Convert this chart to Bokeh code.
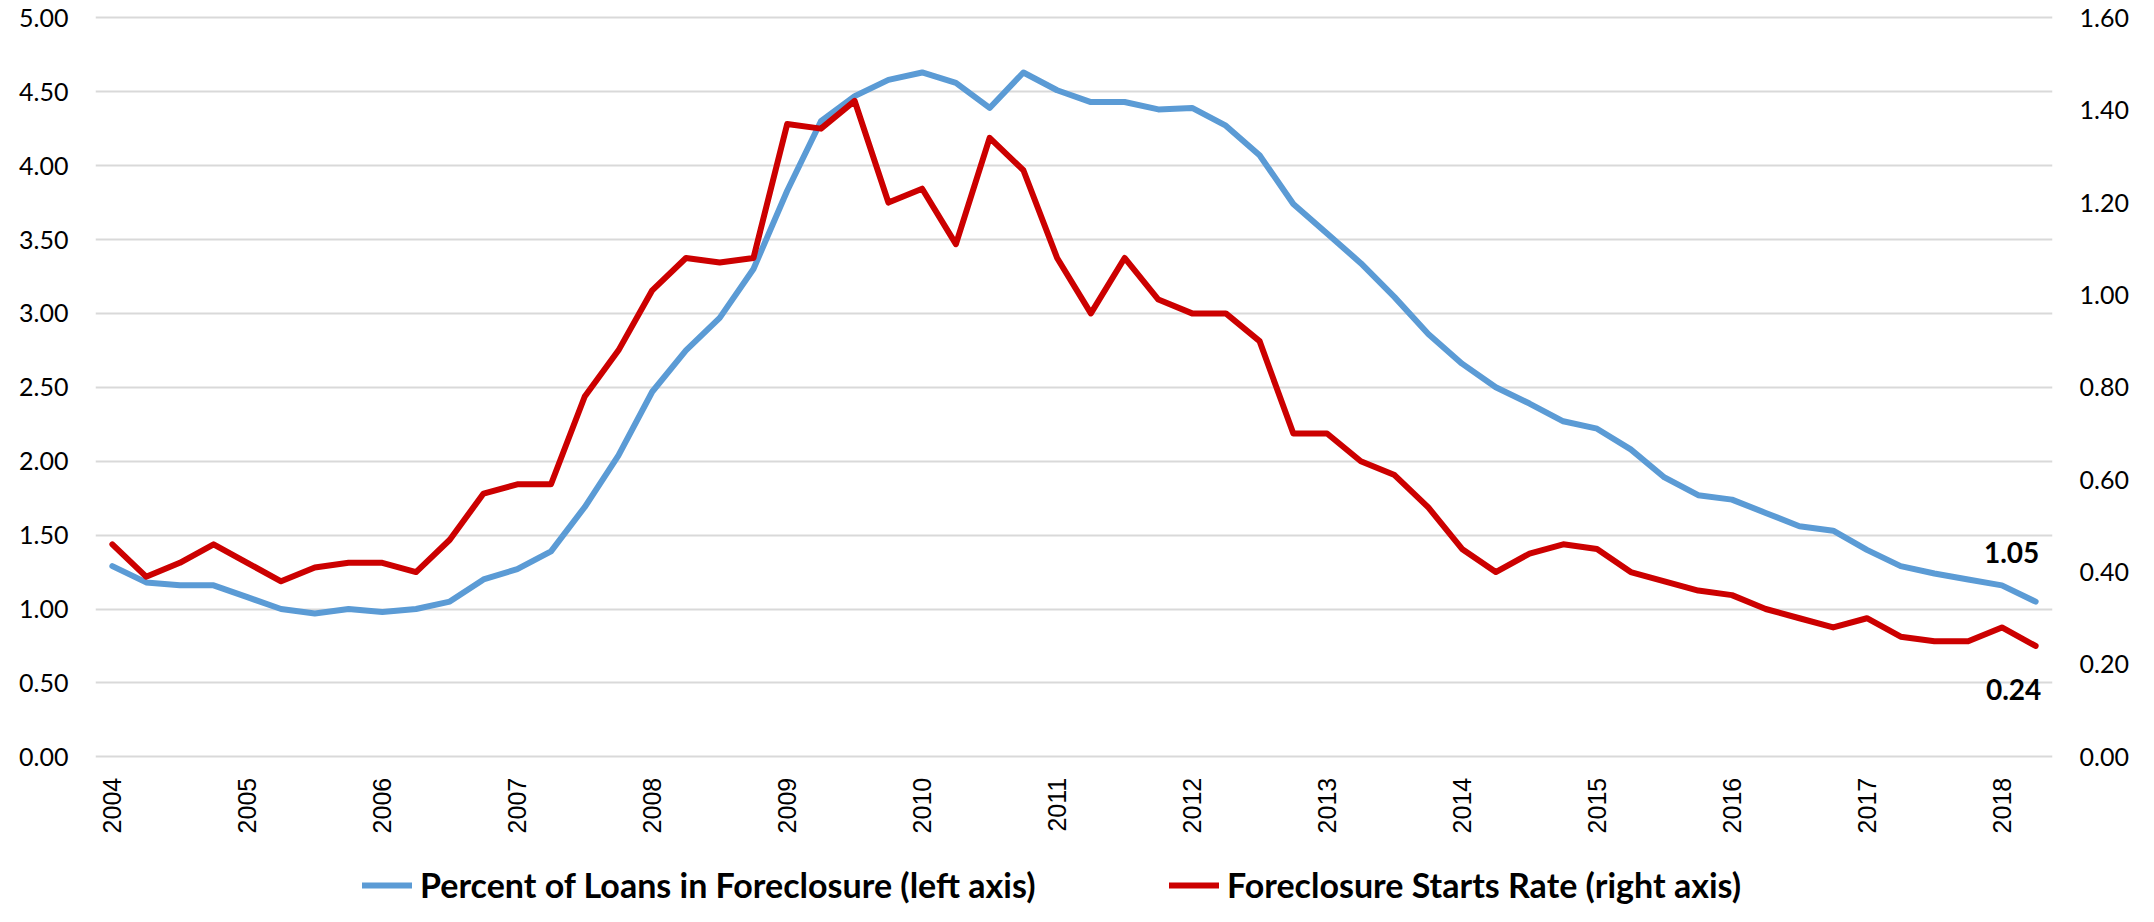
import math
from bokeh.plotting import figure
from bokeh.models import Range1d, LinearAxis, FixedTicker, Legend, LegendItem, ColumnDataSource
from bokeh.core.properties import value
from bokeh.embed import file_html
from bokeh.resources import INLINE

# Quarterly data, 2004 Q1 .. 2018 Q2
quarters = [f"{y}Q{q}" for y in range(2004, 2019) for q in range(1, 5)][:58]
pct_in_foreclosure = [
    1.29, 1.18, 1.16, 1.16, 1.08, 1.00, 0.97, 1.00, 0.98, 1.00, 1.05, 1.20,
    1.27, 1.39, 1.69, 2.04, 2.47, 2.75, 2.97, 3.30, 3.83, 4.30, 4.47, 4.58,
    4.63, 4.56, 4.39, 4.63, 4.51, 4.43, 4.43, 4.38, 4.39, 4.27, 4.07, 3.74,
    3.54, 3.34, 3.11, 2.86, 2.66, 2.50, 2.39, 2.27, 2.22, 2.08, 1.89, 1.77,
    1.74, 1.65, 1.56, 1.53, 1.40, 1.29, 1.24, 1.20, 1.16, 1.05,
]
starts_rate = [
    0.46, 0.39, 0.42, 0.46, 0.42, 0.38, 0.41, 0.42, 0.42, 0.40, 0.47, 0.57,
    0.59, 0.59, 0.78, 0.88, 1.01, 1.08, 1.07, 1.08, 1.37, 1.36, 1.42, 1.20,
    1.23, 1.11, 1.34, 1.27, 1.08, 0.96, 1.08, 0.99, 0.96, 0.96, 0.90, 0.70,
    0.70, 0.64, 0.61, 0.54, 0.45, 0.40, 0.44, 0.46, 0.45, 0.40, 0.38, 0.36,
    0.35, 0.32, 0.30, 0.28, 0.30, 0.26, 0.25, 0.25, 0.28, 0.24,
]
years = [str(y) for y in range(2004, 2019)]
left_ticks = [0.0, 0.5, 1.0, 1.5, 2.0, 2.5, 3.0, 3.5, 4.0, 4.5, 5.0]
right_ticks = [0.0, 0.2, 0.4, 0.6, 0.8, 1.0, 1.2, 1.4, 1.6]
series_names = ["Percent of Loans in Foreclosure (left axis)",
                "Foreclosure Starts Rate (right axis)"]

BLUE = "#5B9BD5"
RED = "#CC0000"
TICK_FONT = "Lato"

# ---- layout (canvas pixels) ----
W, H = 2138, 906
FRAME_LEFT, FRAME_RIGHT = 95, 2052
FRAME_TOP = 14          # top of plotting frame
Y_TOP_PX = 17.3         # where the top tick (5.00 / 1.60) sits
Y_ZERO_PX = 756.3       # where 0.00 sits
# the frame reaches down to the canvas bottom so the x axis and legend live inside it
def span(lo, hi):
    per_px = (hi - lo) / (Y_ZERO_PX - Y_TOP_PX)
    return Range1d(lo - (H - Y_ZERO_PX) * per_px, hi + (Y_TOP_PX - FRAME_TOP) * per_px)

idx = list(range(len(quarters)))
src = ColumnDataSource(dict(x=idx, q=quarters, a=pct_in_foreclosure, b=starts_rate))

p = figure(width=W, height=H, output_backend="svg", toolbar_location=None,
           x_range=Range1d(-0.5, len(quarters) - 0.5),
           y_range=span(left_ticks[0], left_ticks[-1]),
           min_border_left=FRAME_LEFT, min_border_right=W - FRAME_RIGHT,
           min_border_top=FRAME_TOP, min_border_bottom=0)
p.extra_y_ranges = {"right": span(right_ticks[0], right_ticks[-1])}
p.outline_line_color = None
p.background_fill_color = "white"
p.border_fill_color = "white"

# left axis
ya = p.yaxis[0]
ya.ticker = FixedTicker(ticks=left_ticks)
ya.major_label_overrides = {t: f"{t:.2f}" for t in left_ticks}
# right axis
ra = LinearAxis(y_range_name="right", ticker=FixedTicker(ticks=right_ticks))
ra.major_label_overrides = {t: f"{t:.2f}" for t in right_ticks}
p.add_layout(ra, "right")

for ax in (ya, ra):
    ax.axis_line_color = None
    ax.major_tick_line_color = None
    ax.minor_tick_line_color = None
    ax.major_tick_out = 0
    ax.major_label_text_font = TICK_FONT
    ax.major_label_text_font_size = "25px"
    ax.major_label_text_color = "#000000"
    ax.major_label_standoff = 27

xa = p.xaxis[0]
xa.fixed_location = 0
xa.ticker = FixedTicker(ticks=[4 * i for i in range(len(years))])
xa.major_label_overrides = {4 * i: y for i, y in enumerate(years)}
xa.major_label_orientation = math.pi / 2
xa.axis_line_color = None
xa.major_tick_line_color = None
xa.minor_tick_line_color = None
xa.major_tick_out = 0
xa.major_tick_in = 0
xa.major_label_standoff = 21
xa.major_label_text_font = "Liberation Sans"
xa.major_label_text_font_size = "25px"
xa.major_label_text_color = "#000000"

p.xgrid.visible = False
p.ygrid.ticker = FixedTicker(ticks=left_ticks)
p.ygrid.grid_line_color = "#D9D9D9"
p.ygrid.grid_line_width = 2

r1 = p.line("x", "a", source=src, line_color=BLUE, line_width=6,
            line_join="round", line_cap="round")
r2 = p.line("x", "b", source=src, line_color=RED, line_width=6,
            line_join="round", line_cap="round", y_range_name="right")

# end-value labels
last = len(quarters) - 1
p.text(x=[last], y=[pct_in_foreclosure[-1]], text=[f"{pct_in_foreclosure[-1]:.2f}"],
       x_offset=-24, y_offset=-49, text_align="center", text_baseline="middle",
       text_font=value("Lato"), text_font_style="bold", text_font_size="28px",
       text_color="#000000")
p.text(x=[last], y=[starts_rate[-1]], text=[f"{starts_rate[-1]:.2f}"],
       x_offset=-22, y_offset=44, text_align="center", text_baseline="middle",
       text_font=value("Lato"), text_font_style="bold", text_font_size="28px",
       text_color="#000000", y_range_name="right")

def make_legend(name, rend, xloc):
    lg = Legend(items=[LegendItem(label=name, renderers=[rend])], location=(xloc, 1))
    lg.margin = 0
    lg.padding = 0
    lg.border_line_color = None
    lg.background_fill_alpha = 0
    lg.glyph_width = 50
    lg.glyph_height = 22
    lg.label_height = 22
    lg.label_standoff = 8
    lg.label_text_font = "Lato"
    lg.label_text_font_style = "bold"
    lg.label_text_font_size = "34px"
    lg.label_text_color = "#000000"
    return lg

p.add_layout(make_legend(series_names[0], r1, 362 - FRAME_LEFT))
p.add_layout(make_legend(series_names[1], r2, 1169 - FRAME_LEFT))

open("out.html", "w").write(file_html(p, INLINE))
